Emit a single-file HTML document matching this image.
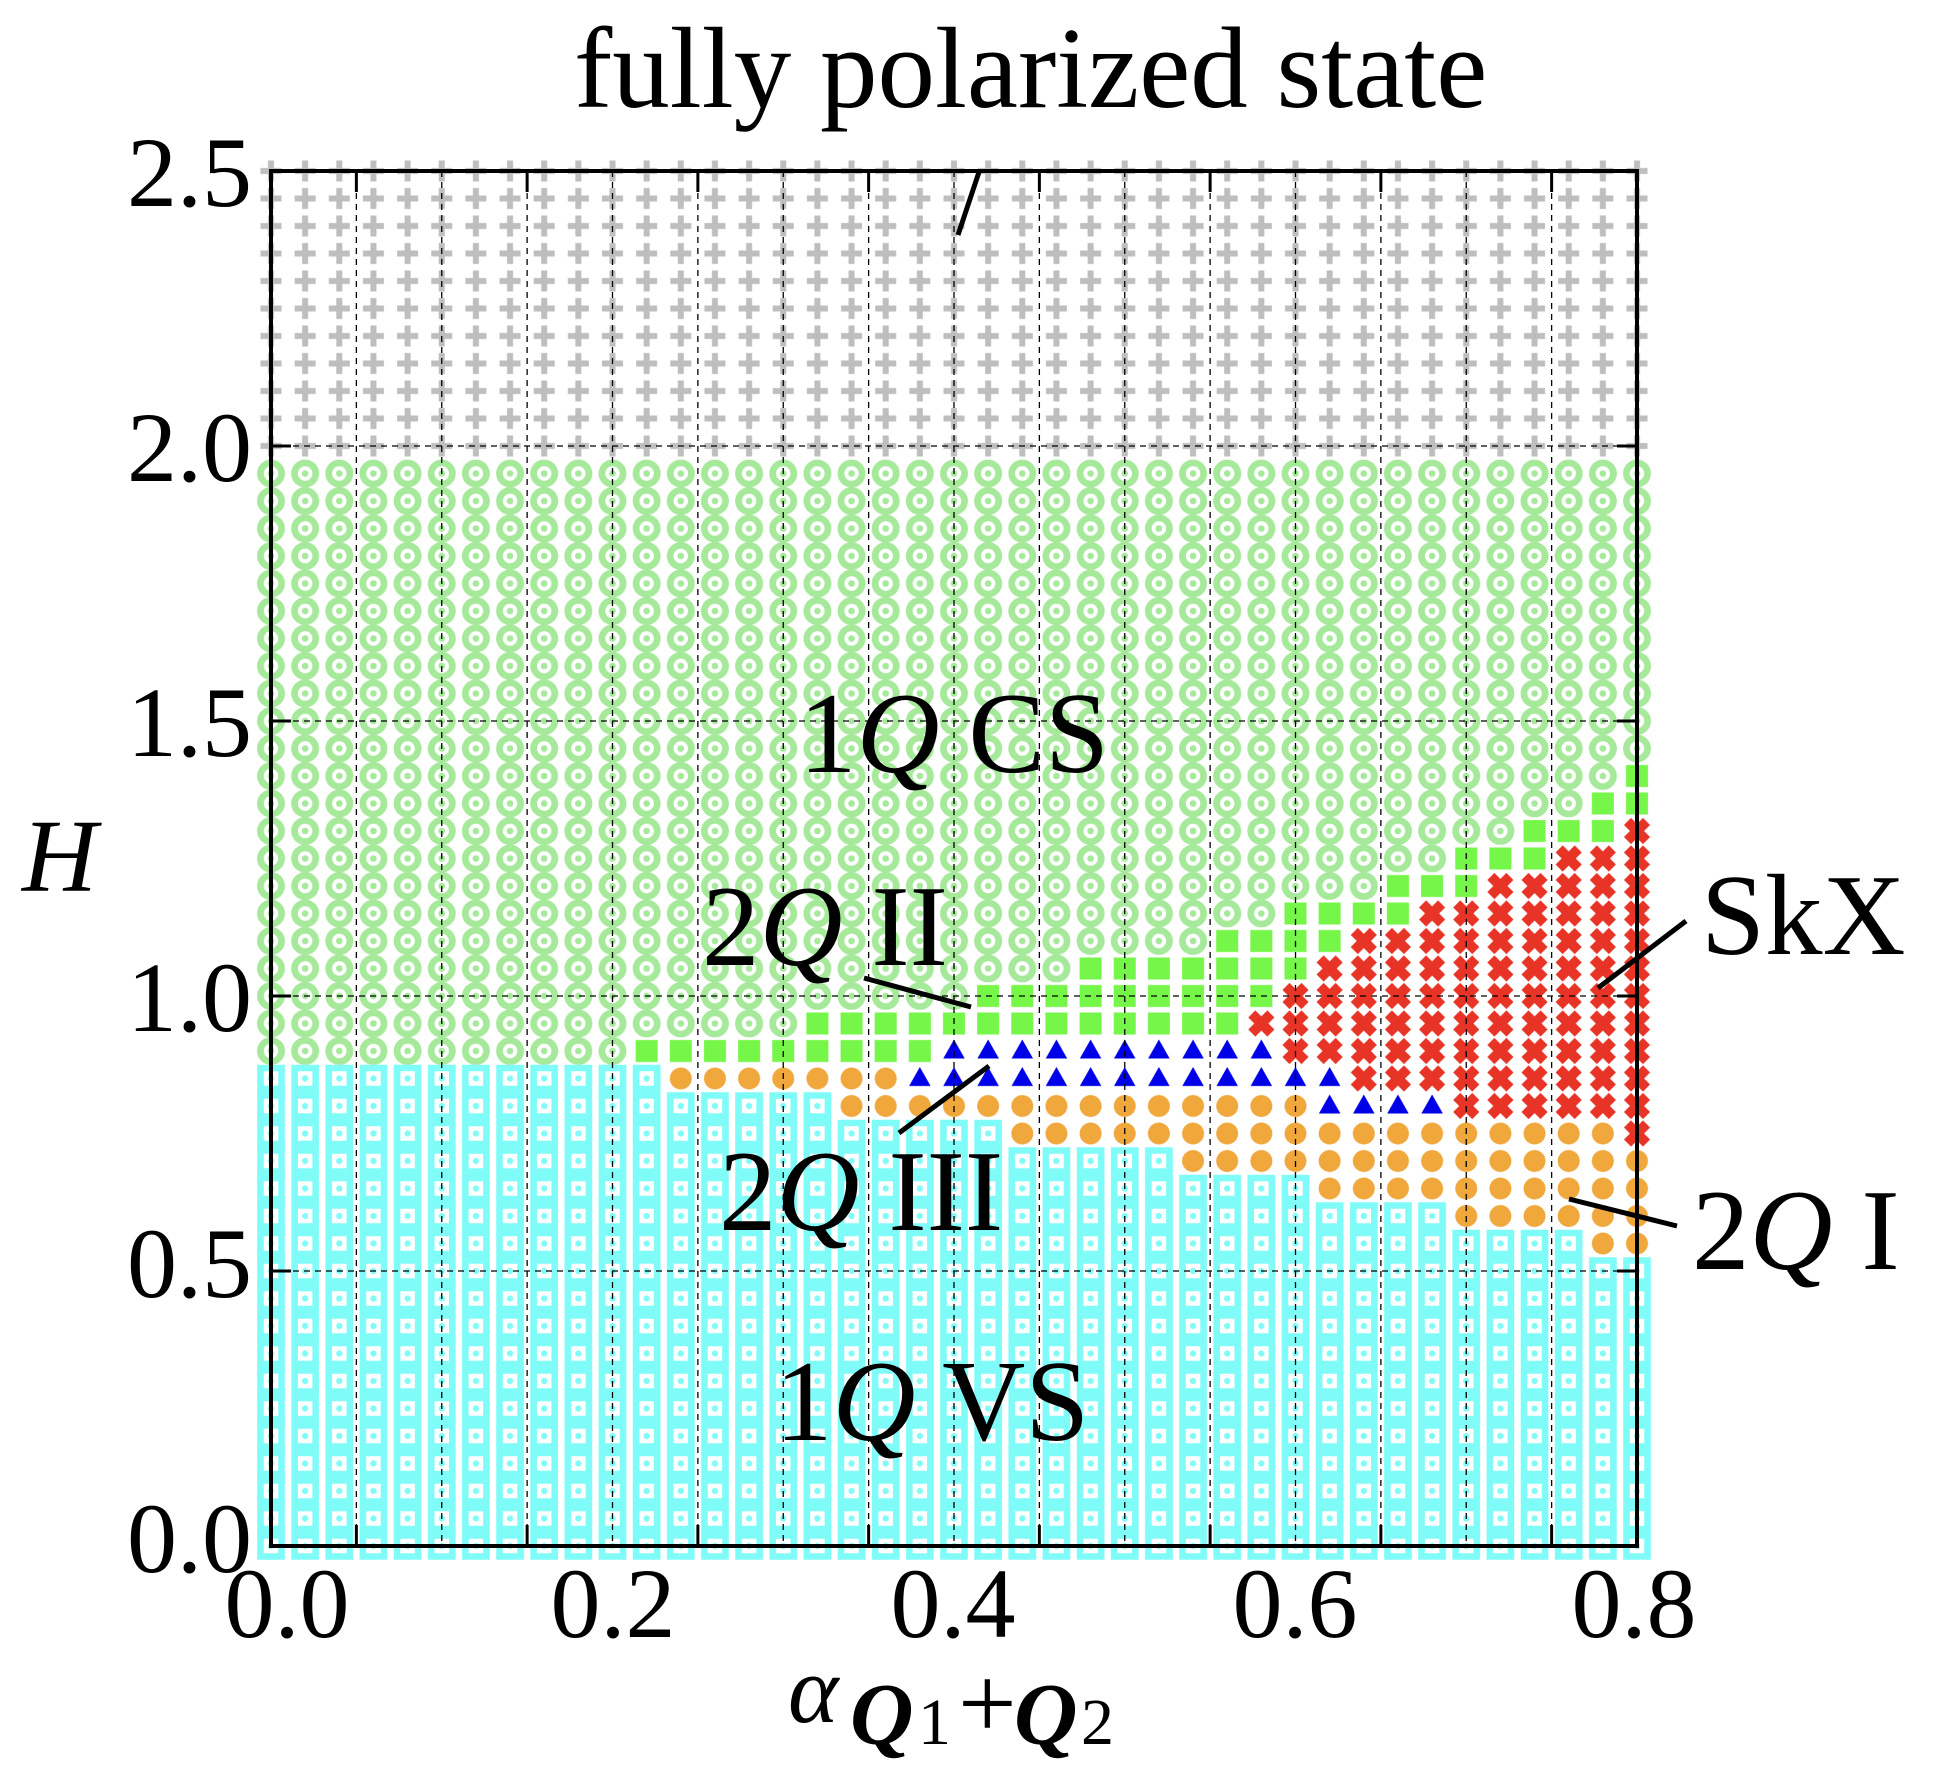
<!DOCTYPE html>
<html>
<head>
<meta charset="utf-8">
<style>
html,body{margin:0;padding:0;background:#fff;}
svg{display:block;}
text{font-family:"Liberation Serif","DejaVu Serif",serif;fill:#000;}
</style>
</head>
<body>
<svg width="1933" height="1782" viewBox="0 0 1933 1782" xmlns="http://www.w3.org/2000/svg">
<defs>
  <pattern id="pf" patternUnits="userSpaceOnUse" x="253.925" y="1532.25" width="34.15" height="27.5">
    <rect x="6.575" y="10.75" width="21" height="6" fill="#bebebe"/>
    <rect x="14.075" y="3.25" width="6" height="21" fill="#bebebe"/>
  </pattern>
  <pattern id="pc" patternUnits="userSpaceOnUse" x="253.925" y="1532.25" width="34.15" height="27.5">
    <circle cx="17.075" cy="13.75" r="14" fill="#a6e99a"/>
    <circle cx="17.075" cy="13.75" r="7.2" fill="#fff"/>
    <circle cx="17.075" cy="13.75" r="3.3" fill="#a6e99a"/>
  </pattern>
  <pattern id="pv" patternUnits="userSpaceOnUse" x="253.925" y="1532.25" width="34.15" height="27.5">
    <rect x="3.225" y="0" width="27.7" height="27.5" fill="#7ffbf8"/>
    <rect x="9.825" y="6.5" width="14.5" height="14.5" fill="#fff"/>
    <circle cx="17.075" cy="13.75" r="3.1" fill="#7ffbf8"/>
  </pattern>
  <pattern id="po" patternUnits="userSpaceOnUse" x="253.925" y="1532.25" width="34.15" height="27.5">
    <circle cx="17.075" cy="13.75" r="11" fill="#f0a83d"/>
  </pattern>
  <pattern id="ps" patternUnits="userSpaceOnUse" x="253.925" y="1532.25" width="34.15" height="27.5">
    <rect x="6.075" y="2.75" width="22" height="22" fill="#77f64a"/>
  </pattern>
  <pattern id="pt" patternUnits="userSpaceOnUse" x="253.925" y="1532.25" width="34.15" height="27.5">
    <polygon points="17.075,2.25 6.325,21.25 27.825,21.25" fill="#0000e8"/>
  </pattern>
  <pattern id="px" patternUnits="userSpaceOnUse" x="253.925" y="1532.25" width="34.15" height="27.5">
    <polygon fill="#e83426" points="23.085,0.669 30.156,7.740 24.146,13.75 30.156,19.760 23.085,26.831 17.075,20.821 11.065,26.831 3.994,19.760 10.004,13.75 3.994,7.740 11.065,0.669 17.075,6.679"/>
  </pattern>
</defs>

<rect x="0" y="0" width="1933" height="1782" fill="#fff"/>

<rect x="253.925" y="157.25" width="1400.15" height="302.5" fill="url(#pf)"/>

<g fill="url(#pc)">
  <rect x="253.925" y="459.75" width="375.65" height="605"/>
  <rect x="629.575" y="459.75" width="170.75" height="577.5"/>
  <rect x="800.325" y="459.75" width="170.75" height="550"/>
  <rect x="971.075" y="459.75" width="102.45" height="522.5"/>
  <rect x="1073.525" y="459.75" width="136.6" height="495"/>
  <rect x="1210.125" y="459.75" width="68.3" height="467.5"/>
  <rect x="1278.425" y="459.75" width="102.45" height="440"/>
  <rect x="1380.875" y="459.75" width="68.3" height="412.5"/>
  <rect x="1449.175" y="459.75" width="68.3" height="385"/>
  <rect x="1517.475" y="459.75" width="68.3" height="357.5"/>
  <rect x="1585.775" y="459.75" width="34.15" height="330"/>
  <rect x="1619.925" y="459.75" width="34.15" height="302.5"/>
</g>

<g fill="url(#pv)">
  <rect x="253.925" y="1064.75" width="409.8" height="495"/>
  <rect x="663.725" y="1092.25" width="170.75" height="467.5"/>
  <rect x="834.475" y="1119.75" width="170.75" height="440"/>
  <rect x="1005.225" y="1147.25" width="170.75" height="412.5"/>
  <rect x="1175.975" y="1174.75" width="136.6" height="385"/>
  <rect x="1312.575" y="1202.25" width="136.6" height="357.5"/>
  <rect x="1449.175" y="1229.75" width="136.6" height="330"/>
  <rect x="1585.775" y="1257.25" width="68.3" height="302.5"/>
</g>

<g fill="url(#po)">
  <rect x="663.725" y="1064.75" width="170.75" height="27.5"/>
  <rect x="834.475" y="1064.75" width="68.3" height="55"/>
  <rect x="902.775" y="1092.25" width="102.45" height="27.5"/>
  <rect x="1005.225" y="1092.25" width="170.75" height="55"/>
  <rect x="1175.975" y="1092.25" width="136.6" height="82.5"/>
  <rect x="1312.575" y="1119.75" width="136.6" height="82.5"/>
  <rect x="1449.175" y="1119.75" width="136.6" height="110"/>
  <rect x="1585.775" y="1119.75" width="34.15" height="137.5"/>
  <rect x="1619.925" y="1147.25" width="34.15" height="110"/>
</g>

<g fill="url(#pt)">
  <rect x="902.775" y="1064.75" width="34.15" height="27.5"/>
  <rect x="936.925" y="1037.25" width="341.5" height="55"/>
  <rect x="1278.425" y="1064.75" width="34.15" height="27.5"/>
  <rect x="1312.575" y="1064.75" width="34.15" height="55"/>
  <rect x="1346.725" y="1092.25" width="102.45" height="27.5"/>
</g>

<g fill="url(#ps)">
  <rect x="629.575" y="1037.25" width="170.75" height="27.5"/>
  <rect x="800.325" y="1009.75" width="136.6" height="55"/>
  <rect x="936.925" y="1009.75" width="34.15" height="27.5"/>
  <rect x="971.075" y="982.25" width="102.45" height="55"/>
  <rect x="1073.525" y="954.75" width="136.6" height="82.5"/>
  <rect x="1210.125" y="927.25" width="34.15" height="110"/>
  <rect x="1244.275" y="927.25" width="34.15" height="82.5"/>
  <rect x="1278.425" y="899.75" width="34.15" height="82.5"/>
  <rect x="1312.575" y="899.75" width="34.15" height="55"/>
  <rect x="1346.725" y="899.75" width="34.15" height="27.5"/>
  <rect x="1380.875" y="872.25" width="34.15" height="55"/>
  <rect x="1415.025" y="872.25" width="34.15" height="27.5"/>
  <rect x="1449.175" y="844.75" width="34.15" height="55"/>
  <rect x="1483.325" y="844.75" width="34.15" height="27.5"/>
  <rect x="1517.475" y="817.25" width="34.15" height="55"/>
  <rect x="1551.625" y="817.25" width="34.15" height="27.5"/>
  <rect x="1585.775" y="789.75" width="34.15" height="55"/>
  <rect x="1619.925" y="762.25" width="34.15" height="55"/>
</g>

<g fill="url(#px)">
  <rect x="1244.275" y="1009.75" width="34.15" height="27.5"/>
  <rect x="1278.425" y="982.25" width="34.15" height="82.5"/>
  <rect x="1312.575" y="954.75" width="34.15" height="110"/>
  <rect x="1346.725" y="927.25" width="68.3" height="165"/>
  <rect x="1415.025" y="899.75" width="34.15" height="192.5"/>
  <rect x="1449.175" y="899.75" width="34.15" height="220"/>
  <rect x="1483.325" y="872.25" width="68.3" height="247.5"/>
  <rect x="1551.625" y="844.75" width="68.3" height="275"/>
  <rect x="1619.925" y="817.25" width="34.15" height="330"/>
</g>

<g stroke="#000" stroke-width="1.3" stroke-dasharray="6 5" fill="none">
  <line x1="356.375" y1="171" x2="356.375" y2="1546"/>
  <line x1="441.75" y1="171" x2="441.75" y2="1546"/>
  <line x1="527.125" y1="171" x2="527.125" y2="1546"/>
  <line x1="612.5" y1="171" x2="612.5" y2="1546"/>
  <line x1="697.875" y1="171" x2="697.875" y2="1546"/>
  <line x1="783.25" y1="171" x2="783.25" y2="1546"/>
  <line x1="868.625" y1="171" x2="868.625" y2="1546"/>
  <line x1="954" y1="171" x2="954" y2="1546"/>
  <line x1="1039.375" y1="171" x2="1039.375" y2="1546"/>
  <line x1="1124.75" y1="171" x2="1124.75" y2="1546"/>
  <line x1="1210.125" y1="171" x2="1210.125" y2="1546"/>
  <line x1="1295.5" y1="171" x2="1295.5" y2="1546"/>
  <line x1="1380.875" y1="171" x2="1380.875" y2="1546"/>
  <line x1="1466.25" y1="171" x2="1466.25" y2="1546"/>
  <line x1="1551.625" y1="171" x2="1551.625" y2="1546"/>
  <line x1="271" y1="1271" x2="1637" y2="1271"/>
  <line x1="271" y1="996" x2="1637" y2="996"/>
  <line x1="271" y1="721" x2="1637" y2="721"/>
  <line x1="271" y1="446" x2="1637" y2="446"/>
</g>

<rect x="271" y="171" width="1366" height="1375" fill="none" stroke="#000" stroke-width="4"/>

<g stroke="#000" stroke-width="3">
  <line x1="356.375" y1="1546" x2="356.375" y2="1525"/>
  <line x1="527.125" y1="1546" x2="527.125" y2="1525"/>
  <line x1="697.875" y1="1546" x2="697.875" y2="1525"/>
  <line x1="868.625" y1="1546" x2="868.625" y2="1525"/>
  <line x1="1039.375" y1="1546" x2="1039.375" y2="1525"/>
  <line x1="1210.125" y1="1546" x2="1210.125" y2="1525"/>
  <line x1="1380.875" y1="1546" x2="1380.875" y2="1525"/>
  <line x1="1551.625" y1="1546" x2="1551.625" y2="1525"/>
  <line x1="356.375" y1="171" x2="356.375" y2="192"/>
  <line x1="527.125" y1="171" x2="527.125" y2="192"/>
  <line x1="697.875" y1="171" x2="697.875" y2="192"/>
  <line x1="868.625" y1="171" x2="868.625" y2="192"/>
  <line x1="1039.375" y1="171" x2="1039.375" y2="192"/>
  <line x1="1210.125" y1="171" x2="1210.125" y2="192"/>
  <line x1="1380.875" y1="171" x2="1380.875" y2="192"/>
  <line x1="1551.625" y1="171" x2="1551.625" y2="192"/>
  <line x1="271" y1="1271" x2="291" y2="1271"/>
  <line x1="271" y1="996" x2="291" y2="996"/>
  <line x1="271" y1="721" x2="291" y2="721"/>
  <line x1="271" y1="446" x2="291" y2="446"/>
  <line x1="1637" y1="1271" x2="1617" y2="1271"/>
  <line x1="1637" y1="996" x2="1617" y2="996"/>
  <line x1="1637" y1="721" x2="1617" y2="721"/>
  <line x1="1637" y1="446" x2="1617" y2="446"/>
</g>

<g font-size="100" text-anchor="end">
  <text x="252" y="1572">0.0</text>
  <text x="252" y="1297">0.5</text>
  <text x="252" y="1031">1.0</text>
  <text x="252" y="756">1.5</text>
  <text x="252" y="481">2.0</text>
  <text x="252" y="206">2.5</text>
</g>

<g font-size="100" text-anchor="middle">
  <text x="287" y="1637">0.0</text>
  <text x="613" y="1637">0.2</text>
  <text x="953" y="1637">0.4</text>
  <text x="1295" y="1637">0.6</text>
  <text x="1634" y="1637">0.8</text>
</g>

<text x="22" y="891" font-size="104" font-style="italic">H</text>
<text x="788" y="1722" font-size="96" font-style="italic">α</text>
<text x="850" y="1744" font-size="88" font-style="italic" font-weight="bold">Q</text>
<text x="918" y="1744" font-size="66">1</text>
<text x="958" y="1738" font-size="104">+</text>
<text x="1014" y="1744" font-size="88" font-style="italic" font-weight="bold">Q</text>
<text x="1081" y="1744" font-size="66">2</text>

<g font-size="115">
  <text x="574" y="107">fully polarized state</text>
  <text x="799" y="772">1<tspan font-style="italic">Q</tspan> CS</text>
  <text x="702" y="965">2<tspan font-style="italic">Q</tspan> II</text>
  <text x="719" y="1230">2<tspan font-style="italic">Q</tspan> III</text>
  <text x="775" y="1440">1<tspan font-style="italic">Q</tspan> VS</text>
  <text x="1701" y="954">SkX</text>
  <text x="1692" y="1269">2<tspan font-style="italic">Q</tspan> I</text>
</g>

<g stroke="#000" stroke-width="5">
  <line x1="979" y1="172" x2="958" y2="235"/>
  <line x1="864" y1="978" x2="971" y2="1007"/>
  <line x1="899" y1="1133" x2="989" y2="1066"/>
  <line x1="1686" y1="921" x2="1598" y2="988"/>
  <line x1="1569" y1="1199" x2="1677" y2="1226"/>
</g>
</svg>
</body>
</html>
